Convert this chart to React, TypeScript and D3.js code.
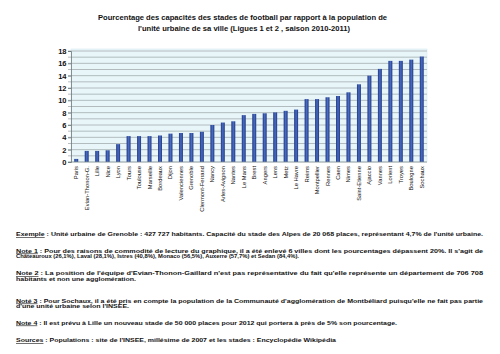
import * as d3 from 'd3'
import { useEffect, useRef } from 'react'

const cities = [
    'Paris', 'Evian-Thonon-G.', 'Lille', 'Nice', 'Lyon', 'Tours', 'Toulouse',
    'Marseille', 'Bordeaux', 'Dijon', 'Valenciennes', 'Grenoble',
    'Clermont-Ferrand', 'Nancy', 'Arles-Avignon', 'Nantes', 'Le Mans', 'Brest',
    'Angers', 'Lens', 'Metz', 'Le Havre', 'Reims', 'Montpellier', 'Rennes',
    'Caen', 'Nimes', 'Saint-Etienne', 'Ajaccio', 'Vannes', 'Lorient', 'Troyes',
    'Boulogne', 'Sochaux',
]
const percentages = [
    0.5, 1.8, 1.8, 1.9, 2.9, 4.2, 4.2, 4.2, 4.3, 4.6, 4.7, 4.7, 4.9, 6.0, 6.4,
    6.6, 7.6, 7.8, 7.9, 8.05, 8.3, 8.5, 10.2, 10.2, 10.5, 10.7, 11.3, 12.6, 14.0,
    15.1, 16.4, 16.4, 16.6, 17.1,
]
const yTicks = [0, 2, 4, 6, 8, 10, 12, 14, 16, 18]

const titleLines = [
    'Pourcentage des capacités des stades de football par rapport à la population de',
    "l'unité urbaine de sa ville  (Ligues 1 et 2 , saison 2010-2011)",
]

// label (underlined), rest of the first line, following lines
const notes: { label: string; lines: string[]; widths: number[] }[] = [
    {
        label: 'Exemple',
        lines: [
            " : Unité urbaine de Grenoble : 427 727 habitants. Capacité du stade des Alpes de 20 068 places, représentant 4,7% de l'unité urbaine.",
        ],
        widths: [467],
    },
    {
        label: 'Note 1',
        lines: [
            " : Pour des raisons de commodité de lecture du graphique, il a été enlevé 6 villes dont les pourcentages dépassent 20%. Il s'agit de",
            'Châteauroux (26,1%),  Laval (28,1%), Istres (40,8%), Monaco (56,5%), Auxerre (57,7%) et Sedan (84,4%).',
        ],
        widths: [467, 283],
    },
    {
        label: 'Note 2',
        lines: [
            " : La position de l'équipe d'Evian-Thonon-Gaillard n'est pas représentative du fait qu'elle représente un département de 706 708",
            'habitants  et non une agglomération.',
        ],
        widths: [467, 120],
    },
    {
        label: 'Noté 3',
        lines: [
            " : Pour Sochaux, il a été pris en compte la population de la Communauté d'agglomération de Montbéliard puisqu'elle ne fait pas partie",
            "d'une unité urbaine selon l'INSEE.",
        ],
        widths: [467, 113],
    },
    {
        label: 'Note 4',
        lines: [
            ' : Il est prévu à Lille un nouveau stade de 50 000 places pour 2012 qui portera à près de 5% son pourcentage.',
        ],
        widths: [381],
    },
    {
        label: 'Sources',
        lines: [
            " : Populations : site de l'INSEE, millésime de 2007 et les stades : Encyclopédie Wikipédia",
        ],
        widths: [320],
    },
]
const noteY = [236, 252.5, 275, 302.5, 324.5, 342]

export default function App() {
    const svgRef = useRef<SVGSVGElement>(null)
    const width = 500
    const height = 354

    useEffect(() => {
        if (!svgRef.current) return
        const svg = d3.select(svgRef.current)
        svg.selectAll('*').remove()

        const font = '"Liberation Sans", Arial, sans-serif'
        const margin = { top: 51, left: 71, right: 73, bottom: 192 }
        const plotTop = 49

        const x = d3
            .scaleBand()
            .domain(cities)
            .range([margin.left, width - margin.right])
            .paddingInner(0.62)
            .paddingOuter(0.31)

        const y = d3
            .scaleLinear()
            .domain([0, 18])
            .range([height - margin.bottom, margin.top])

        // bar gradient
        const defs = svg.append('defs')
        const grad = defs
            .append('linearGradient')
            .attr('id', 'barGrad')
            .attr('x1', '0%')
            .attr('x2', '100%')
        grad.append('stop').attr('offset', '0%').attr('stop-color', '#1f3880')
        grad.append('stop').attr('offset', '50%').attr('stop-color', '#4a6cc6')
        grad.append('stop').attr('offset', '100%').attr('stop-color', '#1f3880')

        // title
        svg.append('g')
            .selectAll('text')
            .data(titleLines)
            .enter()
            .append('text')
            .attr('x', (d, i) => (i === 0 ? 98 : 138))
            .attr('y', (d, i) => 19.5 + i * 11)
            .attr('textLength', (d, i) => (i === 0 ? 289 : 212))
            .attr('lengthAdjust', 'spacingAndGlyphs')
            .style('font-family', font)
            .style('font-weight', 'bold')
            .style('font-size', '7.5px')
            .attr('fill', '#111')
            .text((d) => d)

        // plot background
        svg.append('rect')
            .attr('x', margin.left)
            .attr('y', plotTop)
            .attr('width', width - margin.right - margin.left)
            .attr('height', y(0) - plotTop)
            .attr('fill', '#e8f6f9')
            .attr('stroke', '#d6ecef')
            .attr('stroke-width', 0.6)

        // gridlines every unit
        svg.append('g')
            .selectAll('line')
            .data(d3.range(1, 19))
            .enter()
            .append('line')
            .attr('x1', margin.left - 3)
            .attr('x2', width - margin.right)
            .attr('y1', (d) => y(d))
            .attr('y2', (d) => y(d))
            .attr('stroke', '#a3adb0')
            .attr('stroke-width', 0.8)

        // bars
        svg.append('g')
            .selectAll('rect')
            .data(percentages)
            .enter()
            .append('rect')
            .attr('x', (d, i) => x(cities[i]) || 0)
            .attr('y', (d) => y(d))
            .attr('width', x.bandwidth())
            .attr('height', (d) => y(0) - y(d))
            .attr('fill', 'url(#barGrad)')

        // x axis line
        svg.append('line')
            .attr('x1', margin.left - 3)
            .attr('x2', width - margin.right)
            .attr('y1', y(0))
            .attr('y2', y(0))
            .attr('stroke', '#7d8a8e')
            .attr('stroke-width', 0.8)

        // y axis
        const yAxis = svg
            .append('g')
            .attr('transform', `translate(${margin.left},0)`)
            .call(d3.axisLeft(y).tickValues(yTicks).tickSize(3).tickPadding(1.5))
        yAxis.select('.domain').attr('stroke', '#6b777a').attr('stroke-width', 0.8)
        yAxis.selectAll('.tick line').attr('stroke', '#6b777a').attr('stroke-width', 0.8)
        yAxis
            .selectAll('text')
            .style('font-family', font)
            .style('font-weight', 'bold')
            .style('font-size', '7.5px')
            .attr('fill', '#111')

        // city labels
        svg.append('g')
            .selectAll('text')
            .data(cities)
            .enter()
            .append('text')
            .attr(
                'transform',
                (d) => `translate(${(x(d) || 0) + x.bandwidth() / 2 + 2},${y(0) + 4}) rotate(-90)`
            )
            .attr('text-anchor', 'end')
            .style('font-family', font)
            .style('font-size', '5.8px')
            .attr('fill', '#111')
            .text((d) => d)

        // notes
        const notesG = svg.append('g')
        notes.forEach((n, ni) => {
            n.lines.forEach((line, li) => {
                const t = notesG
                    .append('text')
                    .attr('x', 16)
                    .attr('y', noteY[ni] + li * 5.6)
                    .attr('textLength', n.widths[li])
                    .attr('lengthAdjust', 'spacingAndGlyphs')
                    .style('font-family', font)
                    .style('font-weight', 'bold')
                    .style('font-size', '6px')
                    .attr('fill', '#111')
                if (li === 0) {
                    t.append('tspan')
                        .style('text-decoration', 'underline')
                        .text(n.label)
                }
                t.append('tspan').text(line)
            })
        })
    }, [])

    return (
        <svg
            ref={svgRef}
            width={width}
            height={height}
            style={{ position: 'absolute', left: 0, top: 0, background: '#fff' }}
        />
    )
}
